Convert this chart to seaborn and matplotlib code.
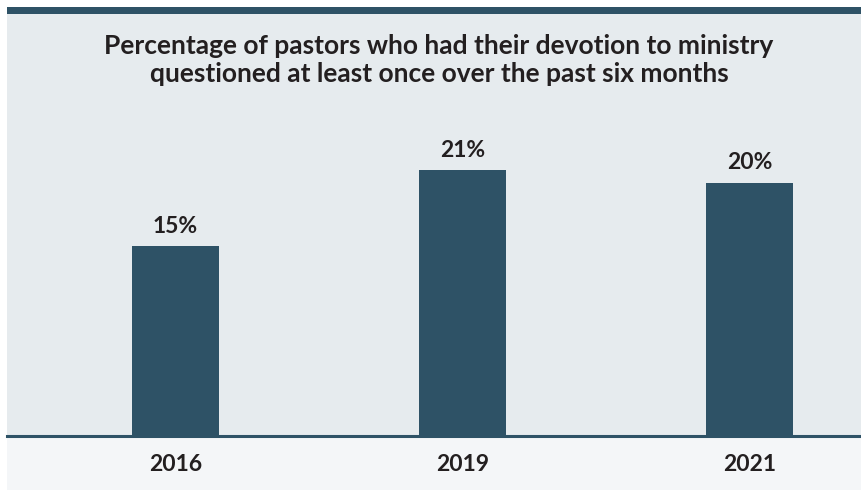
import matplotlib
matplotlib.use("Agg")
import matplotlib.pyplot as plt
import seaborn as sns
import pandas as pd
from matplotlib.patches import Rectangle

years = ["2016", "2019", "2021"]
values = [15, 21, 20]
labels = ["15%", "21%", "20%"]
title = "Percentage of pastors who had their devotion to ministry\nquestioned at least once over the past six months"

sns.set_theme(style="white")
plt.rcParams['font.family'] = ['Lato', 'DejaVu Sans']

W, H = 862, 492
fig = plt.figure(figsize=(W / 100, H / 100), dpi=100, facecolor="white")

def fr(x0, y0, x1, y1, color):
    fig.patches.append(Rectangle((x0 / W, 1 - y1 / H), (x1 - x0) / W, (y1 - y0) / H,
                                 transform=fig.transFigure, facecolor=color,
                                 edgecolor="none", zorder=-5))

bar_color = "#2e5266"
fr(7, 14, W, 437, "#e6ebee")
fr(7, 437, W, 490, "#f4f6f8")
fr(7, 7, W, 14, bar_color)

ax_top, ax_bot = 100, 436
ax = fig.add_axes([7 / W, 1 - ax_bot / H, (W - 7) / W, (ax_bot - ax_top) / H])
ax.patch.set_alpha(0)
ax.set_zorder(2)

df = pd.DataFrame({"year": years, "value": values})
sns.barplot(data=df, x="year", y="value", color=bar_color, saturation=1,
            width=0.303, linewidth=0, ax=ax)

ax.set_xlim(-0.587, 2.392)
ax.set_ylim(0, (ax_bot - ax_top) / 12.65)

for i, (v, lab) in enumerate(zip(values, labels)):
    ax.annotate(lab, (i, v), xytext=(0, 7), textcoords="offset points",
                ha="center", va="bottom", fontsize=16.5, fontweight="bold",
                color="#231f20")

for s in ["top", "right", "left"]:
    ax.spines[s].set_visible(False)
ax.spines["bottom"].set_color("#2e5266")
ax.spines["bottom"].set_linewidth(2.2)
ax.set_yticks([])
ax.set_xlabel("")
ax.set_ylabel("")
ax.tick_params(axis="x", length=0, pad=13, labelsize=16.5, labelcolor="#231f20")
for t in ax.get_xticklabels():
    t.set_fontweight("bold")

fig.text(439 / W, 1 - 60 / H, title, ha="center", va="center", fontsize=19,
         fontweight="bold", color="#231f20", linespacing=1.15)

fig.savefig("out.png", dpi=100, facecolor="white")
